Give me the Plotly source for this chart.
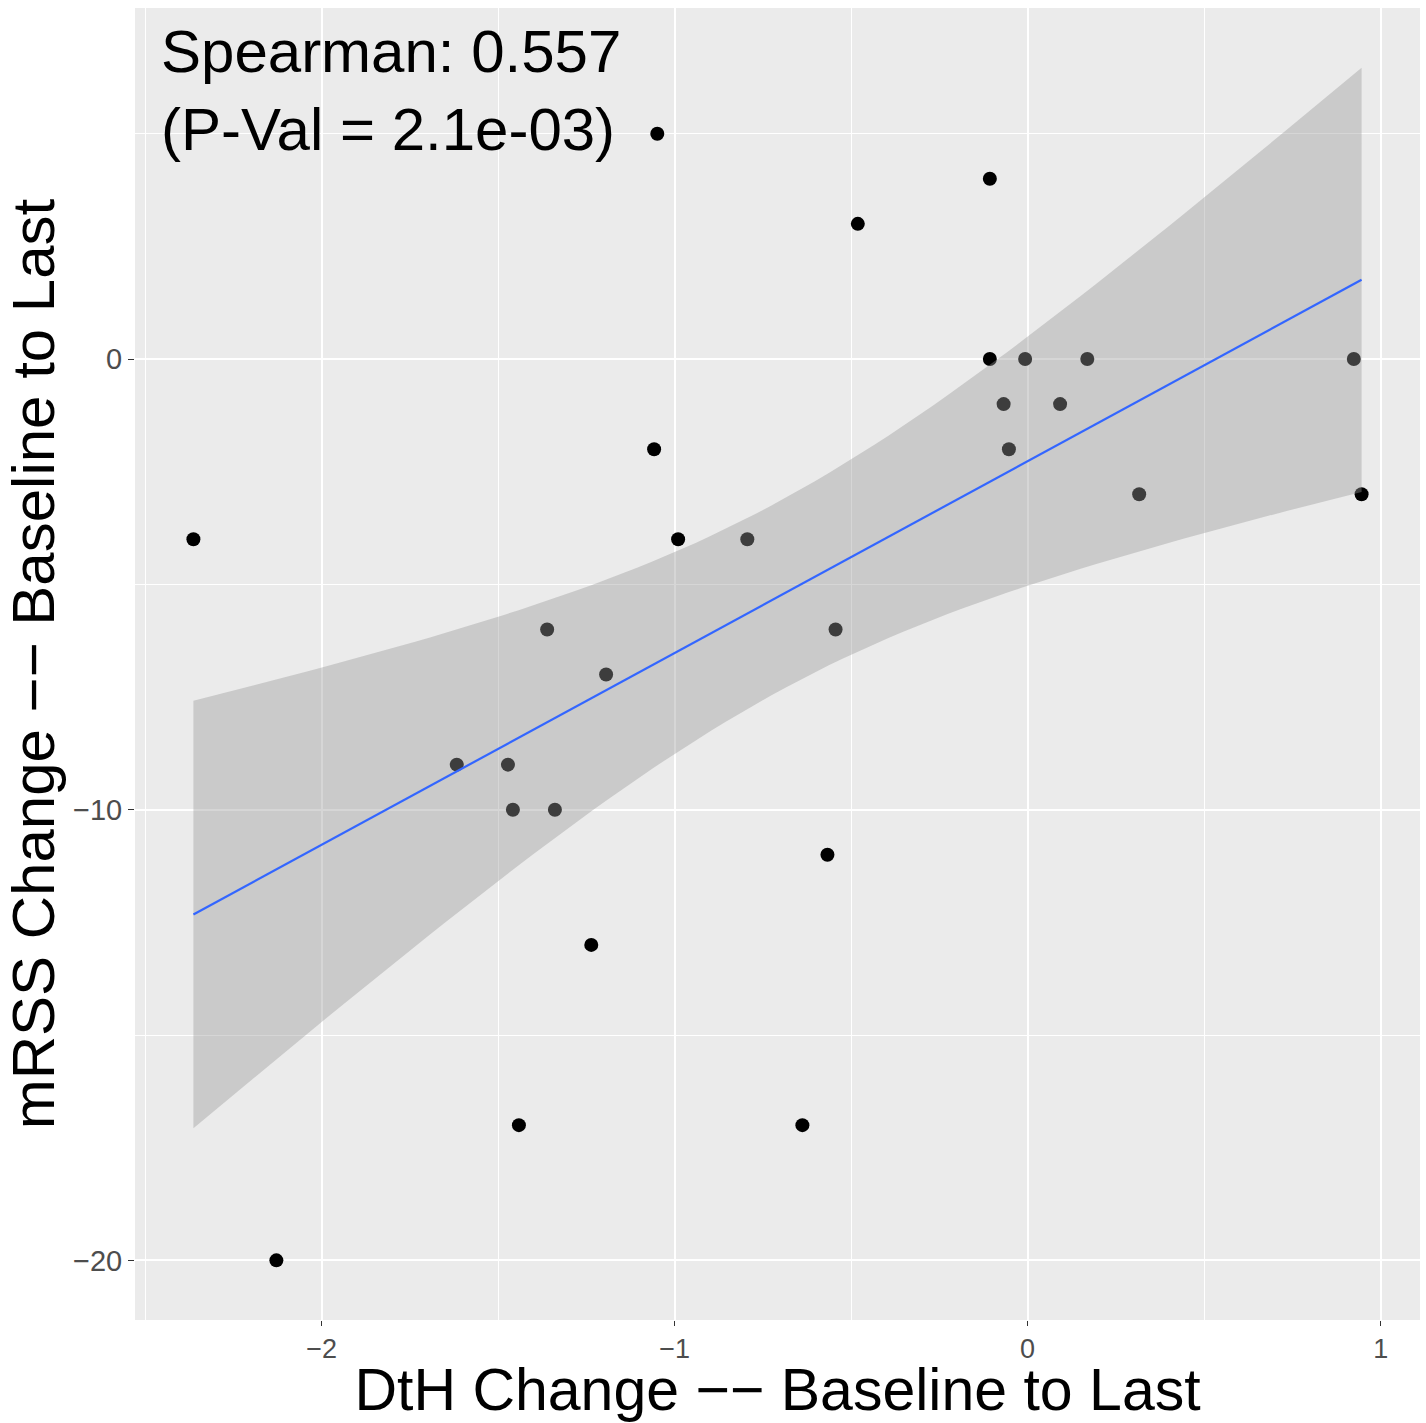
import numpy as np
import plotly.graph_objects as go

# ---- data ----
dth_change = [-2.363, -2.128, -1.049, -0.107, -0.481, -0.107, -0.007, 0.169, 0.924,
              -0.068, 0.092, -0.053, -1.058, 0.316, 0.946, -0.990, -0.794, -1.361,
              -0.544, -1.194, -1.617, -1.472, -1.458, -1.339, -0.567, -1.236, -1.441, -0.638]
mrss_change = [-4, -20, 5, 4, 3, 0, 0, 0, 0,
               -1, -1, -2, -2, -3, -3, -4, -4, -6,
               -6, -7, -9, -9, -10, -10, -11, -13, -17, -17]
x_ticks = [-2, -1, 0, 1]
x_tick_labels = ["\u22122", "\u22121", "0", "1"]
y_ticks = [-20, -10, 0]
y_tick_labels = ["\u221220", "\u221210", "0"]
annotation_text = "Spearman: 0.557<br>(P-Val = 2.1e-03)"
x_title = "DtH Change \u2212\u2212 Baseline to Last"
y_title = "mRSS Change \u2212\u2212 Baseline to Last"
T_CRIT = 2.0555  # t(0.975, df=26)

# ---- linear fit with 95% confidence band ----
x = np.array(dth_change)
y = np.array(mrss_change)
n = len(x)
slope, intercept = np.polyfit(x, y, 1)
resid = y - (slope * x + intercept)
s = np.sqrt(np.sum(resid ** 2) / (n - 2))
xg = np.linspace(x.min(), x.max(), 80)
yg = slope * xg + intercept
se = s * np.sqrt(1.0 / n + (xg - x.mean()) ** 2 / np.sum((x - x.mean()) ** 2))
lo = yg - T_CRIT * se
hi = yg + T_CRIT * se

fig = go.Figure()
fig.add_trace(go.Scatter(x=dth_change, y=mrss_change, mode="markers",
                         marker=dict(color="black", size=14, line=dict(width=0)),
                         showlegend=False, hoverinfo="skip"))
fig.add_trace(go.Scatter(x=xg, y=lo, mode="lines", line=dict(width=0),
                         showlegend=False, hoverinfo="skip"))
fig.add_trace(go.Scatter(x=xg, y=hi, mode="lines", line=dict(width=0),
                         fill="tonexty", fillcolor="rgba(153,153,153,0.4)",
                         showlegend=False, hoverinfo="skip"))
fig.add_trace(go.Scatter(x=xg, y=yg, mode="lines", line=dict(color="#3366FF", width=2.2),
                         showlegend=False, hoverinfo="skip"))

# ggplot-like 5% expansion
xr = x.max() - x.min()
ymin = min(y.min(), lo.min())
ymax = max(y.max(), hi.max())
yr = ymax - ymin

font_family = "Liberation Sans, Arial, Helvetica, sans-serif"
fig.update_layout(
    width=1426, height=1423,
    margin=dict(l=135, r=6, t=8, b=103),
    plot_bgcolor="#EBEBEB", paper_bgcolor="white",
    font=dict(family=font_family, color="black"),
    xaxis=dict(range=[x.min() - 0.05 * xr, x.max() + 0.05 * xr],
               tickvals=x_ticks, ticktext=x_tick_labels,
               tickfont=dict(size=27, color="#4D4D4D"),
               ticks="outside", ticklen=5, tickcolor="#333333", tickwidth=1,
               showgrid=True, gridcolor="white", gridwidth=2,
               minor=dict(dtick=0.5, showgrid=True, gridcolor="white", gridwidth=1),
               zeroline=False, showline=False,
               title=dict(text=x_title, font=dict(size=59, color="black"), standoff=2)),
    yaxis=dict(range=[ymin - 0.05 * yr, ymax + 0.05 * yr],
               tickvals=y_ticks, ticktext=y_tick_labels,
               tickfont=dict(size=29, color="#4D4D4D"),
               ticks="outside", ticklen=6, tickcolor="#333333", tickwidth=1,
               showgrid=True, gridcolor="white", gridwidth=2,
               minor=dict(dtick=5, showgrid=True, gridcolor="white", gridwidth=1),
               zeroline=False, showline=False,
               title=dict(text=y_title, font=dict(size=60, color="black"), standoff=10)),
    annotations=[dict(text=annotation_text, xref="paper", yref="paper",
                      x=0.019, y=1.0, yshift=-8, xanchor="left", yanchor="top", showarrow=False,
                      align="left", font=dict(size=60, color="black", family=font_family))],
)

fig.write_html("out.html")
